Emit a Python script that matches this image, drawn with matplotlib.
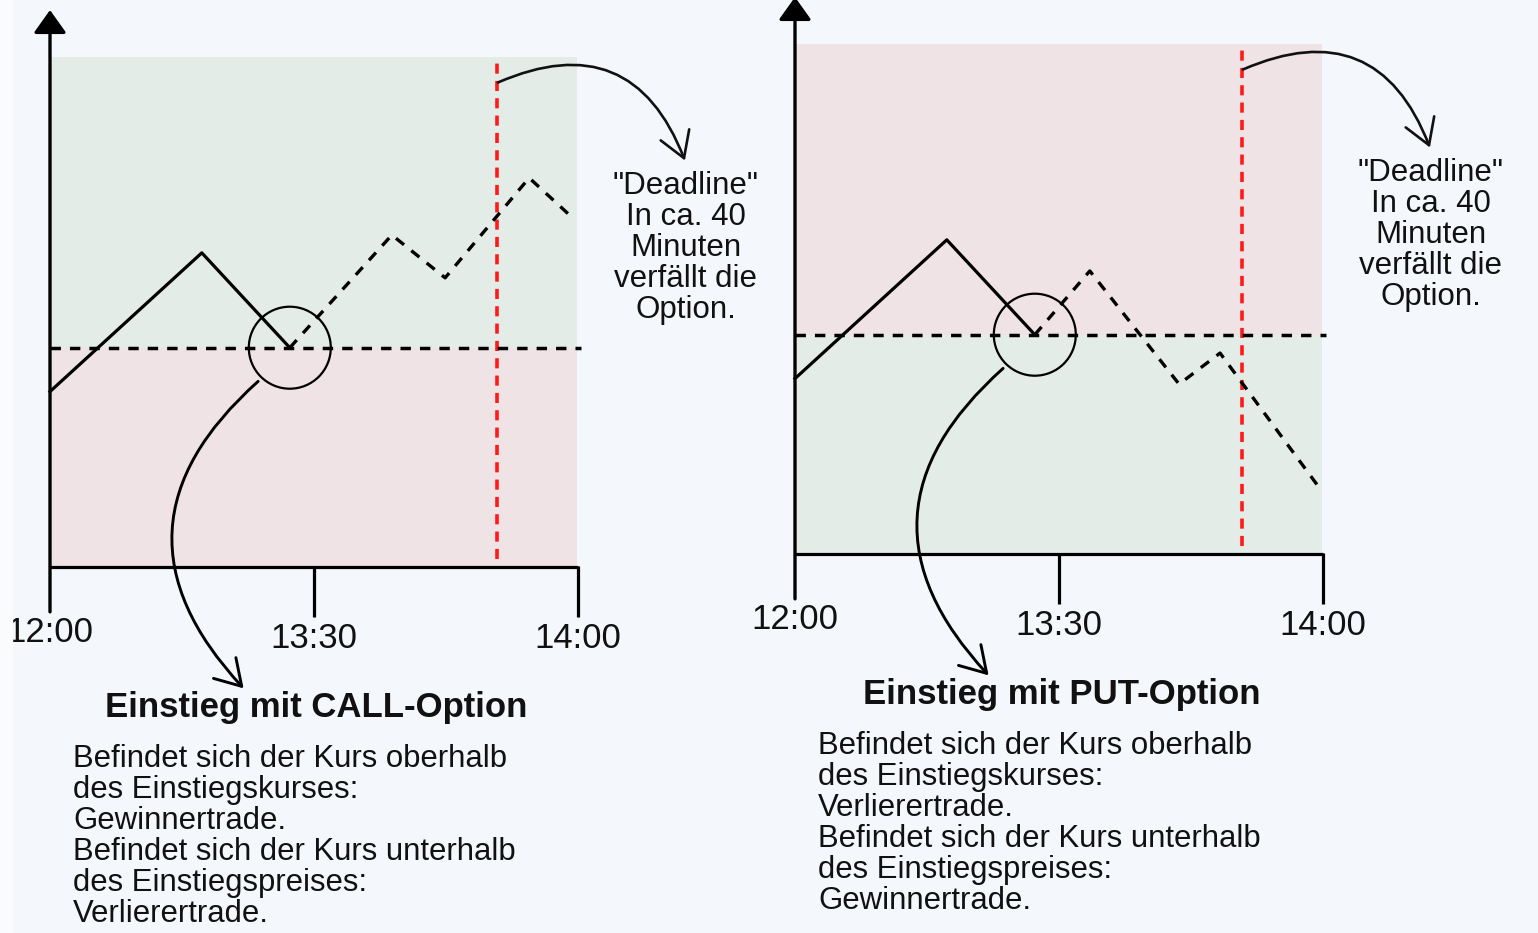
import matplotlib
matplotlib.use("Agg")
import matplotlib.pyplot as plt
from matplotlib.patches import Ellipse, Rectangle

plt.rcParams['font.family'] = ['Liberation Sans', 'DejaVu Sans']

# ---------------- data ----------------
tick_pos = [0, 60, 120]
tick_labels = ['12:00', '13:30', '14:00']
entry_level = 43.0
entry_time = 54.5
deadline_time = 101.6

call_solid_x = [0, 34.5, 54.5]
call_solid_y = [34.4, 61.6, 43.0]
call_dash_x = [54.5, 77.7, 89.8, 108.9, 118.6]
call_dash_y = [43.0, 65.1, 56.7, 76.3, 68.6]

put_solid_x = [0, 34.5, 54.5]
put_solid_y = [34.4, 61.6, 43.0]
put_dash_x = [54.5, 67.0, 87.3, 96.6, 118.9]
put_dash_y = [43.0, 55.5, 33.3, 39.4, 13.3]

deadline_lines = ['"Deadline"', 'In ca. 40', 'Minuten', 'verfällt die', 'Option.']
call_title = 'Einstieg mit CALL-Option'
put_title = 'Einstieg mit PUT-Option'
call_body = ['Befindet sich der Kurs oberhalb', 'des Einstiegskurses:', 'Gewinnertrade.',
             'Befindet sich der Kurs unterhalb', 'des Einstiegspreises:', 'Verlierertrade.']
put_body = ['Befindet sich der Kurs oberhalb', 'des Einstiegskurses:', 'Verlierertrade.',
            'Befindet sich der Kurs unterhalb', 'des Einstiegspreises:', 'Gewinnertrade.']

# ---------------- style ----------------
W, H = 1538, 933
BG = '#f4f7fb'
GREEN = '#e4ece8'
PINK = '#f0e3e6'
RED = '#ff1a1a'
PXX, PXY = 4.4, 5.1   # pixels per data unit

fig = plt.figure(figsize=(W / 100, H / 100), dpi=100, facecolor=BG)
fig.patches.append(Rectangle((0, 0), 12 / W, 1, transform=fig.transFigure,
                             color='#fafbfd', zorder=0))


def make_axes(left_px, right_px, x0_px, base_px):
    ax = fig.add_axes([left_px / W, 0, (right_px - left_px) / W, 1])
    ax.set_xlim((left_px - x0_px) / PXX, (right_px - x0_px) / PXX)
    ax.set_ylim((base_px - H) / PXY, base_px / PXY)
    ax.set_axis_off()
    ax.patch.set_alpha(0)
    return ax


def draw_panel(ax, upper, lower, sx, sy, dx, dy, title, body):
    # shaded zones
    ax.fill_between([0, 119.8], entry_level, 100, color=upper, lw=0, zorder=1)
    ax.fill_between([0, 119.8], 0, entry_level, color=lower, lw=0, zorder=1)
    # entry level
    ax.plot([0, 120.7], [entry_level, entry_level], color='k', lw=2.5,
            dashes=(3.0, 2.6), zorder=3)
    # deadline
    ax.plot([deadline_time, deadline_time], [1.5, 99], color=RED, lw=2.6,
            dashes=(2.8, 2.0), zorder=2)
    # price path
    ax.plot(sx, sy, color='k', lw=2.3, zorder=4)
    ax.plot(dx, dy, color='k', lw=2.4, dashes=(3.1, 2.8), zorder=4)
    # circle around entry
    ax.add_patch(Ellipse((entry_time, entry_level), 2 * 41 / PXX, 2 * 41 / PXY,
                         fill=False, lw=1.6, ec='k', zorder=5))
    # axes
    ax.plot([0, 120], [0, 0], color='k', lw=2.3, solid_capstyle='butt', zorder=6)
    for t in tick_pos[1:]:
        ax.plot([t, t], [0.2, -9.9], color='k', lw=2.3, solid_capstyle='butt', zorder=6)
    ax.annotate('', xy=(0, 109.2), xytext=(0, -8.8), annotation_clip=False,
                arrowprops=dict(arrowstyle='-|>,head_length=0.7,head_width=0.5',
                                mutation_scale=20, lw=2.4, color='k',
                                shrinkA=0, shrinkB=0), zorder=6)
    for t, lab in zip(tick_pos, tick_labels):
        yb = -14.8 if t == tick_pos[0] else -15.9
        ax.text(t, yb, lab, ha='center', va='baseline', fontsize=25, color='#111111')
    # deadline callout
    ax.annotate('', xy=(144.3, 79.7), xytext=(101.8, 95.0), annotation_clip=False,
                arrowprops=dict(arrowstyle='->,head_length=0.9,head_width=0.55',
                                mutation_scale=20, lw=1.9, color='#111111',
                                connectionstyle='arc3,rad=-0.52',
                                shrinkA=0, shrinkB=0), zorder=7)
    for i, line in enumerate(deadline_lines):
        ax.text(144.5, 73.1 - i * 6.05, line, ha='center', va='baseline',
                fontsize=22.5, color='#111111')
    # entry callout
    ax.annotate('', xy=(44.0, -23.8), xytext=(47.3, 36.4), annotation_clip=False,
                arrowprops=dict(arrowstyle='->,head_length=0.9,head_width=0.55',
                                mutation_scale=20, lw=2.1, color='k',
                                connectionstyle='arc3,rad=0.51',
                                shrinkA=0, shrinkB=0), zorder=7)
    ax.text(60.6, -29.5, title, ha='center', va='baseline', fontsize=25,
            fontweight='bold', color='#111111')
    for i, line in enumerate(body):
        ax.text(5.2, -39.3 - i * 6.05, line, ha='left', va='baseline',
                fontsize=22.4, color='#111111')


ax_call = make_axes(0, 769, 50, 567)
draw_panel(ax_call, GREEN, PINK, call_solid_x, call_solid_y, call_dash_x, call_dash_y,
           call_title, call_body)

ax_put = make_axes(769, 1538, 795, 554)
draw_panel(ax_put, PINK, GREEN, put_solid_x, put_solid_y, put_dash_x, put_dash_y,
           put_title, put_body)

fig.savefig('out.png', dpi=100, facecolor=BG)
